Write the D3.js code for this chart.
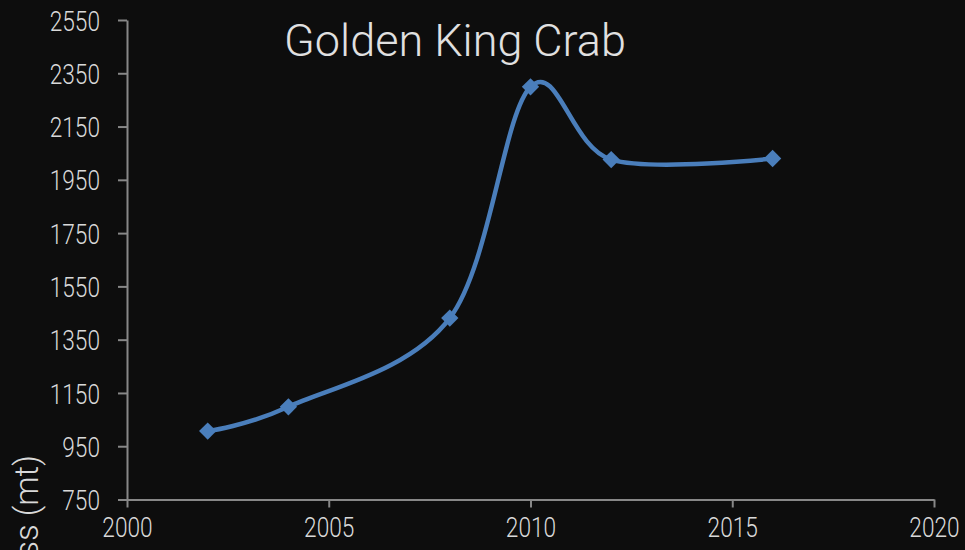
<!DOCTYPE html>
<html>
<head>
<meta charset="utf-8">
<script src="https://cdn.jsdelivr.net/npm/d3@7"></script>
<style>
  html, body { margin: 0; padding: 0; background: #0d0d0d; }
  svg { display: block; }
</style>
</head>
<body>
<div id="chart"></div>
<script>
const years = [2002, 2004, 2008, 2010, 2012, 2016];
const biomass = [1007, 1098, 1431, 2299, 2026, 2030];
const yTicks = [750, 950, 1150, 1350, 1550, 1750, 1950, 2150, 2350, 2550];
const xTicks = [2000, 2005, 2010, 2015, 2020];

const width = 965, height = 550;
const font = "Roboto, 'Liberation Sans', sans-serif";
const squeeze = 0.81; // original uses a narrow face

const svg = d3.select("#chart").append("svg")
  .attr("width", width)
  .attr("height", height);

svg.append("rect").attr("width", width).attr("height", height).attr("fill", "#0d0d0d");

const x = d3.scaleLinear().domain([2000, 2020]).range([127, 934]);
const y = d3.scaleLinear().domain([750, 2550]).range([499.5, 20]);

// y axis
const yAxis = svg.append("g")
  .attr("transform", "translate(127,0)")
  .call(d3.axisLeft(y).tickValues(yTicks).tickFormat(d3.format("d")).tickSize(9).tickSizeOuter(0));

// x axis
const xAxis = svg.append("g")
  .attr("transform", "translate(0,499.5)")
  .call(d3.axisBottom(x).tickValues(xTicks).tickFormat(d3.format("d")).tickSize(8).tickSizeOuter(0));

[yAxis, xAxis].forEach(g => {
  g.select(".domain").attr("stroke", "#878787").attr("stroke-width", 2);
  g.selectAll(".tick line").attr("stroke", "#878787").attr("stroke-width", 2);
  g.selectAll(".tick text")
    .attr("fill", "#d9d9d9")
    .attr("transform", `scale(${squeeze},1)`)
    .style("font-family", font)
    .style("font-weight", 300)
    .style("font-size", "28px");
});
yAxis.selectAll(".tick text").attr("x", -27 / squeeze).attr("dy", "0.36em");
xAxis.selectAll(".tick text").attr("y", 18).attr("dy", "0.71em");

// series line
const pts = years.map((d, i) => [x(d), y(biomass[i])]);
svg.append("path")
  .attr("d", d3.line().curve(d3.curveCardinal.tension(0))(pts))
  .attr("fill", "none")
  .attr("stroke", "#4a7ebb")
  .attr("stroke-width", 4.5);

svg.selectAll("path.marker")
  .data(pts)
  .join("path")
  .attr("class", "marker")
  .attr("d", d3.symbol(d3.symbolSquare, 150)())
  .attr("transform", d => `translate(${d[0]},${d[1]}) rotate(45)`)
  .attr("fill", "#4a7ebb");

// title
svg.append("text")
  .attr("x", 455)
  .attr("y", 56)
  .attr("text-anchor", "middle")
  .attr("fill", "#e0e0e0")
  .style("font-family", font)
  .style("font-weight", 300)
  .style("font-size", "45px")
  .text("Golden King Crab");

// y label (mostly cut off by the frame, as in the original)
svg.append("text")
  .attr("transform", "translate(38,455) rotate(-90)")
  .attr("text-anchor", "end")
  .attr("fill", "#d9d9d9")
  .style("font-family", font)
  .style("font-weight", 300)
  .style("font-size", "33px")
  .text("Biomass (mt)");
</script>
</body>
</html>
